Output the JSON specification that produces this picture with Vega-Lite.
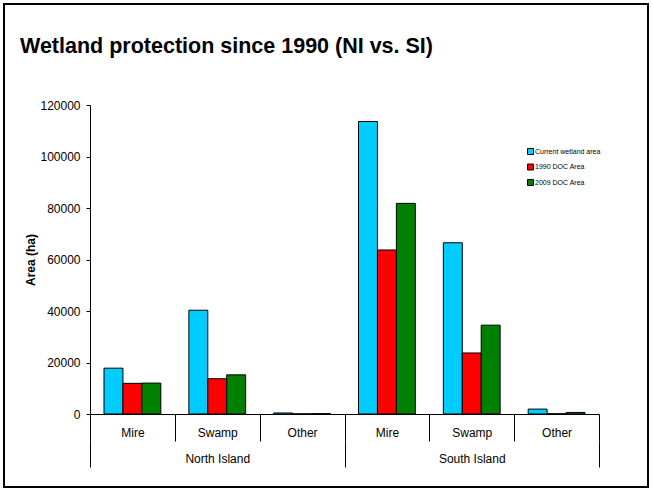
{
  "$schema": "https://vega.github.io/schema/vega-lite/v6.json",
  "width": 644,
  "height": 483,
  "autosize": {"type": "none"},
  "padding": {"left": 4, "top": 4, "right": 4, "bottom": 3},
  "background": "white",
  "title": {"text": "Wetland protection since 1990 (NI vs. SI)", "anchor": "start", "frame": "group", "orient": "top", "offset": -64, "baseline": "middle", "dx": 16, "font": "Liberation Sans", "fontSize": 21.5, "fontWeight": "bold", "color": "black"},
  "config": {
    "view": {"stroke": "black", "strokeWidth": 2},
    "axis": {"domainColor": "black", "tickColor": "black", "labelColor": "black", "labelFont": "Liberation Sans", "titleFont": "Liberation Sans", "titleColor": "black"}
  },
  "layer": [
    {
      "data": {"values": [
        {"cat": "North Island|Mire", "series": "Current wetland area", "value": 17800},
        {"cat": "North Island|Mire", "series": "1990 DOC Area", "value": 11900},
        {"cat": "North Island|Mire", "series": "2009 DOC Area", "value": 12000},
        {"cat": "North Island|Swamp", "series": "Current wetland area", "value": 40300},
        {"cat": "North Island|Swamp", "series": "1990 DOC Area", "value": 13700},
        {"cat": "North Island|Swamp", "series": "2009 DOC Area", "value": 15200},
        {"cat": "North Island|Other", "series": "Current wetland area", "value": 400},
        {"cat": "North Island|Other", "series": "1990 DOC Area", "value": 50},
        {"cat": "North Island|Other", "series": "2009 DOC Area", "value": 150},
        {"cat": "South Island|Mire", "series": "Current wetland area", "value": 113600},
        {"cat": "South Island|Mire", "series": "1990 DOC Area", "value": 63700},
        {"cat": "South Island|Mire", "series": "2009 DOC Area", "value": 81800},
        {"cat": "South Island|Swamp", "series": "Current wetland area", "value": 66500},
        {"cat": "South Island|Swamp", "series": "1990 DOC Area", "value": 23700},
        {"cat": "South Island|Swamp", "series": "2009 DOC Area", "value": 34500},
        {"cat": "South Island|Other", "series": "Current wetland area", "value": 1900},
        {"cat": "South Island|Other", "series": "1990 DOC Area", "value": 100},
        {"cat": "South Island|Other", "series": "2009 DOC Area", "value": 600}
      ]},
      "mark": {"type": "bar", "stroke": "black", "strokeWidth": 1},
      "encoding": {
        "x": {"field": "cat", "type": "nominal",
          "sort": ["North Island|Mire", "North Island|Swamp", "North Island|Other", "South Island|Mire", "South Island|Swamp", "South Island|Other"],
          "scale": {"range": [86, 595], "paddingInner": 0, "paddingOuter": 0},
          "axis": {"orient": "bottom", "offset": -73, "tickBand": "extent", "tickSize": 27, "labelPadding": -14, "labelExpr": "split(datum.label,'|')[1]", "labelFontSize": 12, "title": null, "labelAngle": 0}},
        "xOffset": {"field": "series", "type": "nominal",
          "sort": ["Current wetland area", "1990 DOC Area", "2009 DOC Area"],
          "scale": {"paddingInner": 0, "paddingOuter": 0.74}},
        "y": {"field": "value", "type": "quantitative",
          "scale": {"domain": [0, 120000], "range": [410, 101], "nice": false},
          "axis": {"values": [0, 20000, 40000, 60000, 80000, 100000, 120000], "format": "d", "grid": false, "offset": -86, "tickSize": 4, "labelPadding": 6, "labelFontSize": 12, "title": "Area (ha)", "titleFontSize": 12, "titleFontWeight": "bold", "titlePadding": 2}},
        "color": {"field": "series", "type": "nominal",
          "scale": {"domain": ["Current wetland area", "1990 DOC Area", "2009 DOC Area"], "range": ["#00CCFF", "#FF0000", "#008000"]},
          "legend": {"orient": "none", "legendX": 523, "legendY": 144, "title": null, "symbolType": "square", "symbolSize": 36, "symbolStrokeColor": "black", "symbolStrokeWidth": 1, "labelFontSize": 7, "labelFont": "Liberation Sans", "labelColor": "black", "rowPadding": 4.5, "labelOffset": 1, "padding": 0}}
      }
    },
    {
      "data": {"values": [{"island": "North Island"}, {"island": "South Island"}]},
      "mark": {"type": "bar", "opacity": 0},
      "encoding": {
        "x": {"field": "island", "type": "nominal",
          "scale": {"range": [86, 595], "paddingInner": 0, "paddingOuter": 0},
          "axis": {"orient": "bottom", "offset": -46, "domain": false, "tickBand": "extent", "tickSize": 26, "labelPadding": -14, "labelFontSize": 12, "title": null, "labelAngle": 0}}
      }
    }
  ],
  "resolve": {"scale": {"x": "independent"}, "axis": {"x": "independent"}}
}
